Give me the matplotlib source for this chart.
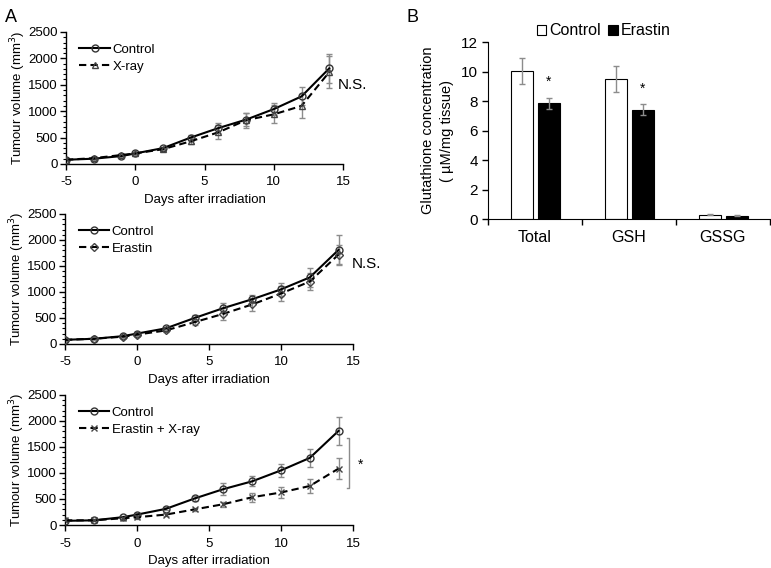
import matplotlib
matplotlib.use("Agg")
import matplotlib.pyplot as plt
import numpy as np
from matplotlib.ticker import MultipleLocator, FixedLocator

plt.rcParams['font.family'] = ['Liberation Sans', 'DejaVu Sans']

days = [-5, -3, -1, 0, 2, 4, 6, 8, 10, 12, 14]

ctrl1 = [80, 100, 150, 200, 300, 500, 680, 840, 1040, 1280, 1810]
ctrl1_err = [20, 20, 25, 30, 30, 50, 100, 120, 120, 170, 280]
xray = [80, 110, 170, 200, 280, 430, 600, 830, 940, 1100, 1740]
xray_err = [20, 20, 25, 30, 30, 60, 130, 140, 170, 220, 300]

ctrl2 = [80, 100, 150, 200, 300, 500, 690, 860, 1050, 1280, 1810]
ctrl2_err = [20, 20, 25, 30, 30, 50, 100, 80, 130, 180, 290]
erastin = [80, 100, 140, 180, 260, 420, 580, 760, 970, 1200, 1720]
erastin_err = [20, 20, 25, 30, 30, 60, 115, 130, 140, 170, 190]

ctrl3 = [80, 90, 150, 200, 310, 510, 690, 840, 1050, 1290, 1810]
ctrl3_err = [20, 20, 25, 30, 30, 40, 110, 95, 120, 180, 270]
erx = [90, 90, 130, 150, 200, 300, 400, 534, 625, 750, 1085]
erx_err = [20, 20, 25, 30, 30, 30, 50, 85, 105, 140, 210]

labels_A = [("Control", "X-ray"), ("Control", "Erastin"), ("Control", "Erastin + X-ray")]
markers_A = ["^", "D", "x"]

groups = ["Total", "GSH", "GSSG"]
ctrl_B = [10.05, 9.5, 0.28]
ctrl_B_err = [0.9, 0.88, 0.04]
era_B = [7.85, 7.4, 0.22]
era_B_err = [0.38, 0.38, 0.04]

fig = plt.figure(figsize=(7.71, 5.68), dpi=100)
ERR = '#8c8c8c'
FS = 9.5

panels = [
    ([0.0856, 0.7113, 0.3594, 0.2324], ctrl1, ctrl1_err, xray, xray_err),
    ([0.0843, 0.3944, 0.3735, 0.2289], ctrl2, ctrl2_err, erastin, erastin_err),
    ([0.0843, 0.0757, 0.3735, 0.2289], ctrl3, ctrl3_err, erx, erx_err),
]
axesA = []
for i, (pos, c, ce, t, te) in enumerate(panels):
    ax = fig.add_axes(pos)
    axesA.append(ax)
    ax.errorbar(days, c, yerr=ce, fmt='none', ecolor=ERR, elinewidth=1, capsize=2.5, capthick=1, zorder=2)
    ax.errorbar(days, t, yerr=te, fmt='none', ecolor=ERR, elinewidth=1, capsize=2.5, capthick=1, zorder=2)
    ax.plot(days, c, '-', color='black', lw=1.5, marker='o', ms=5, mfc='none', mec='#333333', mew=1,
            label=labels_A[i][0], zorder=3)
    mk = markers_A[i]
    ms = {'^': 5, 'D': 4, 'x': 5}[mk]
    ax.plot(days, t, '--', color='black', lw=1.5, marker=mk, ms=ms, mfc='none', mec='#444444', mew=1,
            label=labels_A[i][1], zorder=3, dashes=(3.5, 2))
    ax.set_xlim(-5, 15)
    ax.set_ylim(0, 2500)
    ax.xaxis.set_major_locator(FixedLocator([-5, 0, 5, 10, 15]))
    ax.set_xticklabels(['-5', '0', '5', '10', '15'])
    ax.yaxis.set_major_locator(MultipleLocator(500))
    ax.yaxis.set_minor_locator(MultipleLocator(100))
    for s in ['top', 'right']:
        ax.spines[s].set_visible(False)
    for s in ['left', 'bottom']:
        ax.spines[s].set_linewidth(1.0)
    ax.tick_params(axis='both', which='major', direction='out', length=4, width=1, labelsize=FS)
    ax.tick_params(axis='x', which='major', pad=5)
    ax.tick_params(axis='y', which='major', pad=2)
    ax.tick_params(axis='y', which='minor', direction='out', length=2.5, width=0.8)
    ax.set_xlabel("Days after irradiation", fontsize=FS, labelpad=4)
    ax.set_ylabel("Tumour volume (mm$^{3}$)", fontsize=FS, labelpad=0)
    ax.legend(loc='upper left', bbox_to_anchor=(0.02, 0.97), frameon=False, fontsize=FS,
              handlelength=2.3, handletextpad=0.2, labelspacing=0.35, borderaxespad=0.2)

axesA[0].text(14.6, 1500, "N.S.", fontsize=11, va='center', ha='left', clip_on=False)
axesA[1].text(14.9, 1540, "N.S.", fontsize=11, va='center', ha='left', clip_on=False)
ax3 = axesA[2]
ax3.plot([14.6, 14.72, 14.72, 14.6], [1680, 1680, 706, 706], color=ERR, lw=1, clip_on=False)
ax3.text(15.5, 1164, "*", fontsize=10, ha='center', va='center', clip_on=False)

fig.text(0.006, 0.985, "A", fontsize=13, va='top', ha='left')
fig.text(0.527, 0.985, "B", fontsize=13, va='top', ha='left')

# Panel B
axB = fig.add_axes([0.633, 0.6144, 0.3655, 0.3116])
x = np.arange(len(groups))
w = 0.235
axB.bar(x - 0.135, ctrl_B, w, color='white', edgecolor='black', linewidth=0.8, label='Control', zorder=2)
axB.bar(x + 0.148, era_B, w, color='black', edgecolor='black', linewidth=0.8, label='Erastin', zorder=2)
axB.errorbar(x - 0.135, ctrl_B, yerr=ctrl_B_err, fmt='none', ecolor=ERR, elinewidth=1, capsize=2.5, capthick=1, zorder=3)
axB.errorbar(x + 0.148, era_B, yerr=era_B_err, fmt='none', ecolor=ERR, elinewidth=1, capsize=2.5, capthick=1, zorder=3)
for xi, yv in [(0 + 0.148, 9.3), (1 + 0.148, 8.8)]:
    axB.text(xi, yv, "*", fontsize=10, ha='center', va='center')
axB.set_xlim(-0.5, 2.5)
axB.set_ylim(0, 12)
axB.yaxis.set_major_locator(MultipleLocator(2))
axB.set_xticks(x)
axB.set_xticklabels(groups)
axB.xaxis.set_minor_locator(FixedLocator([-0.5, 0.5, 1.5, 2.5]))
axB.tick_params(axis='x', which='major', length=0, labelsize=11.5, pad=8)
axB.tick_params(axis='x', which='minor', direction='out', length=4, width=1)
axB.tick_params(axis='y', which='major', direction='out', length=4, width=1, labelsize=11)
for s in ['top', 'right']:
    axB.spines[s].set_visible(False)
axB.set_ylabel("Glutathione concentration\n( µM/mg tissue)", fontsize=10.5, labelpad=5, linespacing=1.45)
axB.legend(loc='lower center', bbox_to_anchor=(0.41, 0.985), ncol=2, frameon=False, fontsize=11.5,
           handlelength=0.6, handleheight=0.6, handletextpad=0.15, columnspacing=0.5, borderaxespad=0.0)

fig.savefig("out.png", dpi=100)
